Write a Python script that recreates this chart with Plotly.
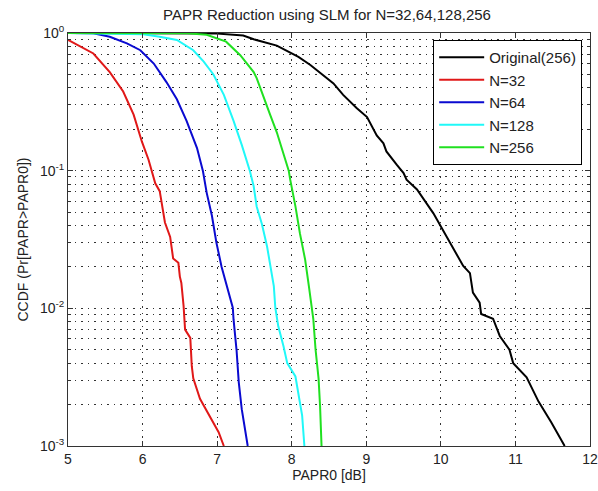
import plotly.graph_objects as go

# ---- data ----
red_x = [5.0, 5.16, 5.34, 5.56, 5.74, 5.88, 5.99, 6.08, 6.17, 6.23, 6.26, 6.30, 6.37, 6.41, 6.48, 6.50,
         6.52, 6.55, 6.57, 6.64, 6.66, 6.68, 6.77, 6.91, 7.02, 7.09]
red_y = [0.89, 0.80, 0.71, 0.52, 0.376, 0.255, 0.163, 0.12, 0.081, 0.071, 0.058, 0.042, 0.033, 0.023, 0.0214, 0.017,
         0.0153, 0.0104, 0.0070, 0.0061, 0.0038, 0.0031, 0.0022, 0.0016, 0.00126, 0.001]

blue_x = [5.0, 5.34, 5.56, 5.79, 5.97, 6.15, 6.32, 6.46, 6.59, 6.73, 6.81, 6.86, 6.93, 6.99, 7.06, 7.13,
          7.21, 7.22, 7.26, 7.29, 7.33, 7.41]
blue_y = [1.0, 0.995, 0.94, 0.84, 0.75, 0.60, 0.44, 0.33, 0.23, 0.146, 0.099, 0.069, 0.047, 0.030, 0.020, 0.0145,
          0.0101, 0.0083, 0.0050, 0.0029, 0.00185, 0.001]

cyan_x = [5.0, 6.01, 6.23, 6.46, 6.68, 6.82, 6.95, 7.03, 7.09, 7.22, 7.33, 7.44, 7.49, 7.53, 7.60, 7.67,
          7.71, 7.76, 7.78, 7.82, 7.89, 7.94, 8.05, 8.09, 8.14, 8.17]
cyan_y = [1.0, 0.98, 0.94, 0.89, 0.75, 0.62, 0.50, 0.41, 0.355, 0.23, 0.154, 0.099, 0.077, 0.055, 0.041, 0.028,
          0.0203, 0.0145, 0.0101, 0.0074, 0.0053, 0.0040, 0.0032, 0.00245, 0.00166, 0.001]

green_x = [5.0, 6.6, 6.86, 7.04, 7.12, 7.31, 7.49, 7.53, 7.67, 7.71, 7.80, 7.96, 7.98, 8.05, 8.11, 8.18,
           8.23, 8.27, 8.29, 8.32, 8.36, 8.38, 8.40]
green_y = [1.0, 0.995, 0.97, 0.89, 0.865, 0.69, 0.52, 0.47, 0.30, 0.255, 0.19, 0.10, 0.086, 0.055, 0.035, 0.0226,
           0.0145, 0.0101, 0.0083, 0.005, 0.0031, 0.00196, 0.001]

orig_x = [5.0, 6.5, 7.0, 7.35, 7.49, 7.80, 8.09, 8.25, 8.47, 8.56, 8.69, 8.87, 9.01, 9.14, 9.23, 9.27, 9.41,
          9.50, 9.54, 9.68, 9.90, 10.08, 10.17, 10.30, 10.39, 10.43, 10.52, 10.54, 10.70, 10.79, 10.92,
          10.97, 11.15, 11.31, 11.48, 11.66]
orig_y = [1.0, 0.998, 0.99, 0.96, 0.90, 0.81, 0.67, 0.586, 0.47, 0.43, 0.355, 0.285, 0.245, 0.18, 0.158, 0.138, 0.11,
          0.096, 0.086, 0.073, 0.049, 0.033, 0.027, 0.0203, 0.018, 0.013, 0.011, 0.0091, 0.0084, 0.0063, 0.005,
          0.004, 0.00315, 0.0021, 0.00149, 0.001]

series = [
    ("Original(256)", orig_x, orig_y, "#000000"),
    ("N=32", red_x, red_y, "#e01818"),
    ("N=64", blue_x, blue_y, "#0a0ad0"),
    ("N=128", cyan_x, cyan_y, "#20f8f8"),
    ("N=256", green_x, green_y, "#20e020"),
]

x_ticks = [5, 6, 7, 8, 9, 10, 11, 12]
y_major = [0.001, 0.01, 0.1, 1]
y_major_text = ["10<sup>-3</sup>", "10<sup>-2</sup>", "10<sup>-1</sup>", "10<sup>0</sup>"]
y_minor = [m * d for d in [0.001, 0.01, 0.1] for m in range(2, 10)]

FONT = "Liberation Sans, Arial, Helvetica, sans-serif"

fig = go.Figure()
for name, xs, ys, col in series:
    fig.add_trace(go.Scatter(x=xs, y=ys, mode="lines", name=name,
                             line=dict(color=col, width=2)))

grid_dash = "1.5px,5px"
fig.update_layout(
    width=598, height=491,
    margin=dict(l=68, r=8, t=33, b=45, autoexpand=False),
    paper_bgcolor="white", plot_bgcolor="white",
    font=dict(family=FONT, size=14, color="#222"),
    title=dict(text="PAPR Reduction using SLM for N=32,64,128,256",
               x=327 / 598, xanchor="center", y=1 - 15 / 491, yanchor="middle",
               automargin=False,
               font=dict(family=FONT, size=15, color="#222")),
    showlegend=True,
    legend=dict(x=0.985, y=0.983, xanchor="right", yanchor="top",
                bordercolor="#000", borderwidth=1, bgcolor="white",
                font=dict(family=FONT, size=15, color="#222"),
                itemwidth=45, tracegroupgap=0),
    xaxis=dict(range=[5, 12], tickvals=x_ticks, ticktext=[str(v) for v in x_ticks],
               automargin=False,
               ticks="inside", ticklen=5, tickcolor="#333", showline=True, linecolor="#333",
               mirror="ticks", showgrid=True, gridcolor="#333", griddash=grid_dash, gridwidth=1,
               zeroline=False,
               title=dict(text="PAPR0 [dB]", standoff=4, font=dict(family=FONT, size=14, color="#222"))),
    yaxis=dict(type="log", range=[-3, 0], tickvals=y_major, ticktext=y_major_text,
               automargin=False,
               ticks="inside", ticklen=5, tickcolor="#333", showline=True, linecolor="#333",
               mirror="ticks", showgrid=True, gridcolor="#333", griddash=grid_dash, gridwidth=1,
               zeroline=False,
               minor=dict(tickvals=y_minor, ticks="inside", ticklen=3, tickcolor="#333",
                          showgrid=True, gridcolor="#333", griddash=grid_dash, gridwidth=1),
               title=dict(text="CCDF (Pr[PAPR>PAPR0])", standoff=8,
                          font=dict(family=FONT, size=14, color="#222"))),
)

fig.write_html("out.html", config={"displayModeBar": False},
               post_script="document.body.style.margin='0';document.body.style.overflow='hidden';")
